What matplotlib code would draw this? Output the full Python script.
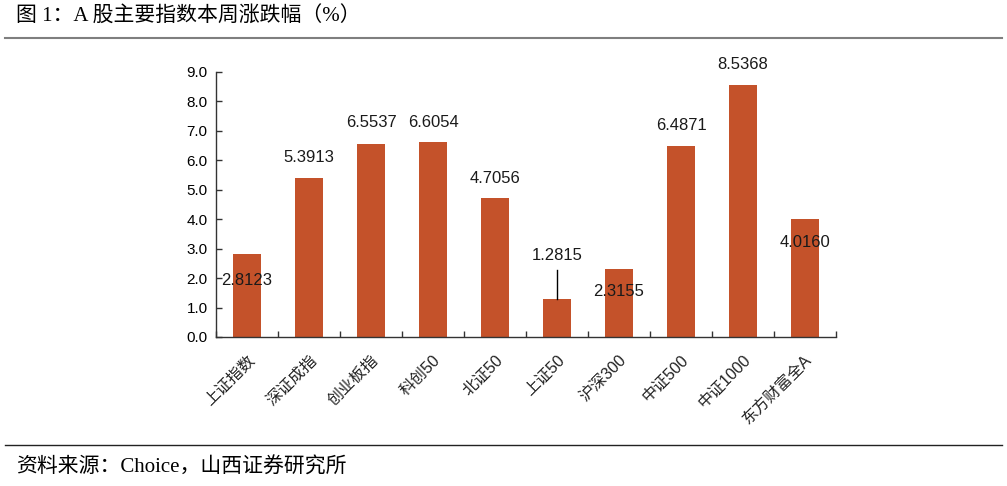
import numpy as np
import matplotlib.pyplot as plt
from matplotlib.lines import Line2D

plt.rcParams['font.family'] = ['Liberation Sans', 'Noto Sans CJK SC', 'DejaVu Sans']

# data
names = ['上证指数', '深证成指', '创业板指', '科创50', '北证50',
         '上证50', '沪深300', '中证500', '中证1000', '东方财富全A']
values = [2.8123, 5.3913, 6.5537, 6.6054, 4.7056,
          1.2815, 2.3155, 6.4871, 8.5368, 4.0160]
# where each value label sits (in data units)
label_y = [1.93, 6.10, 7.29, 7.29, 5.39, 2.76, 1.54, 7.16, 9.25, 3.19]

bar_color = '#C4522A'

fig = plt.figure(figsize=(10.07, 4.86), dpi=100)
ax = fig.add_axes([0.2145, 0.3066, 0.6157, 0.5459])

x = np.arange(len(names))
ax.bar(x, values, width=0.44, color=bar_color, zorder=2)

# value labels
for i, (v, ly) in enumerate(zip(values, label_y)):
    ax.text(i, ly, '%.4f' % v, ha='center', va='center', fontsize=12,
            color='#1a1a1a', zorder=3)
# leader line for the small bar
i = names.index('上证50')
ax.plot([i, i], [values[i], label_y[i] - 0.5], color='black', lw=1, zorder=3)

ax.set_xlim(-0.5, len(names) - 0.5)
ax.set_ylim(0, 9)
ax.set_yticks(np.arange(0, 9.1, 1.0))
ax.set_yticklabels(['%.1f' % t for t in np.arange(0, 9.1, 1.0)], fontsize=11)

# boundary ticks on x axis, labels at category centres
ax.set_xticks(np.arange(-0.5, len(names), 1.0))
ax.set_xticklabels([])
ax.set_xticks(x, minor=True)
ax.set_xticklabels(names, minor=True, rotation=45, ha='right', va='top',
                   rotation_mode='anchor', fontsize=11.5, color='#222222')
ax.tick_params(axis='x', which='minor', length=0, pad=11)
ax.tick_params(axis='both', which='major', direction='in', length=4,
               width=1, color='#333333')
ax.tick_params(axis='y', pad=6)

for side in ['top', 'right']:
    ax.spines[side].set_visible(False)
for side in ['left', 'bottom']:
    ax.spines[side].set_color('#333333')
    ax.spines[side].set_linewidth(1)

# title, rules and source
fig.text(16 / 1007, 1 - 17 / 486, '图 1：A 股主要指数本周涨跌幅（%）',
         fontsize=15, ha='left', va='center',
         family=['Liberation Serif', 'Noto Sans CJK SC'])
fig.add_artist(Line2D([5 / 1007, 1002 / 1007], [1 - 38 / 486, 1 - 38 / 486],
                      color='#7f7f7f', lw=1.5))
fig.add_artist(Line2D([5 / 1007, 1002 / 1007], [1 - 445 / 486, 1 - 445 / 486],
                      color='#222222', lw=1))
fig.text(16 / 1007, 1 - 468 / 486, '资料来源：Choice，山西证券研究所',
         fontsize=15, ha='left', va='center',
         family=['Liberation Serif', 'Noto Sans CJK SC'])

fig.savefig('out.png', dpi=100)
